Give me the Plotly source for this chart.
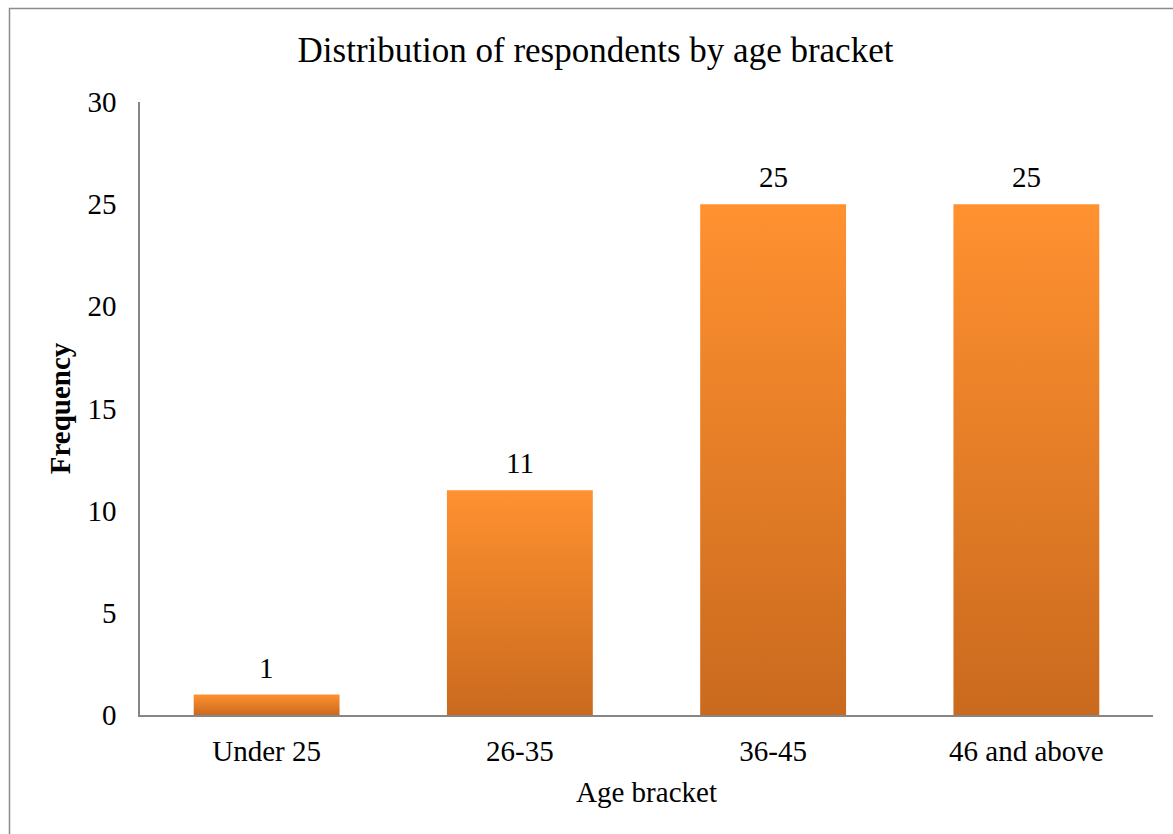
import plotly.graph_objects as go

categories = ["Under 25", "26-35", "36-45", "46 and above"]
frequency = [1, 11, 25, 25]
y_ticks = [0, 5, 10, 15, 20, 25, 30]

FONT = "Liberation Serif, Times New Roman, serif"
BAR_HALF = 0.288
TOP_COLOR = "#FF9130"
BOTTOM_COLOR = "#CA6A1E"

fig = go.Figure()

for i, (cat, v) in enumerate(zip(categories, frequency)):
    fig.add_trace(go.Scatter(
        x=[i - BAR_HALF, i - BAR_HALF, i + BAR_HALF, i + BAR_HALF, i - BAR_HALF],
        y=[0, v, v, 0, 0],
        mode="lines",
        line=dict(width=0, color=BOTTOM_COLOR),
        fill="toself",
        fillgradient=dict(type="vertical",
                          colorscale=[[0, BOTTOM_COLOR], [1, TOP_COLOR]]),
        name=cat,
        hoverinfo="skip",
        showlegend=False,
    ))
    fig.add_annotation(
        x=i, y=v, xref="x", yref="y",
        text=str(v),
        showarrow=False,
        yanchor="middle",
        yshift=27,
        font=dict(family=FONT, size=29, color="#000000"),
    )

fig.update_layout(
    width=1173,
    height=834,
    margin=dict(l=140, r=20, t=102, b=119),
    paper_bgcolor="white",
    plot_bgcolor="white",
    font=dict(family=FONT, size=29, color="#000000"),
    title=dict(
        text="Distribution of respondents by age bracket",
        font=dict(family=FONT, size=35, color="#000000"),
        x=595.5 / 1173, xanchor="center",
        y=1 - 50 / 834, yanchor="middle",
        xref="container", yref="container",
    ),
    xaxis=dict(
        range=[-0.5, len(categories) - 0.5],
        tickmode="array",
        tickvals=list(range(len(categories))),
        ticktext=categories,
        showgrid=False,
        zeroline=False,
        showline=True,
        linecolor="#868686",
        linewidth=1.5,
        ticks="",
        ticklabelstandoff=9,
        tickfont=dict(family=FONT, size=29),
        title=dict(text="Age bracket", font=dict(family=FONT, size=29), standoff=16),
        automargin=False,
        fixedrange=True,
    ),
    yaxis=dict(
        range=[0, 30],
        tickmode="array",
        tickvals=y_ticks,
        ticktext=[str(t) for t in y_ticks],
        showgrid=False,
        zeroline=False,
        showline=True,
        linecolor="#868686",
        linewidth=1.5,
        ticks="",
        ticklabelstandoff=16,
        tickfont=dict(family=FONT, size=29),
        title=dict(text="<b>Frequency</b>", font=dict(family=FONT, size=29), standoff=8),
        automargin=False,
        fixedrange=True,
    ),
    shapes=[dict(
        type="rect",
        xref="paper", yref="paper",
        x0=(9.5 - 140) / 1013, x1=(1180 - 140) / 1013,
        y0=(715 - 845) / 613, y1=(715 - 8.5) / 613,
        line=dict(color="#8C8C8C", width=1.5),
        fillcolor="rgba(0,0,0,0)",
        layer="below",
    )],
)

fig.write_html("out.html", config={"displayModeBar": False})
